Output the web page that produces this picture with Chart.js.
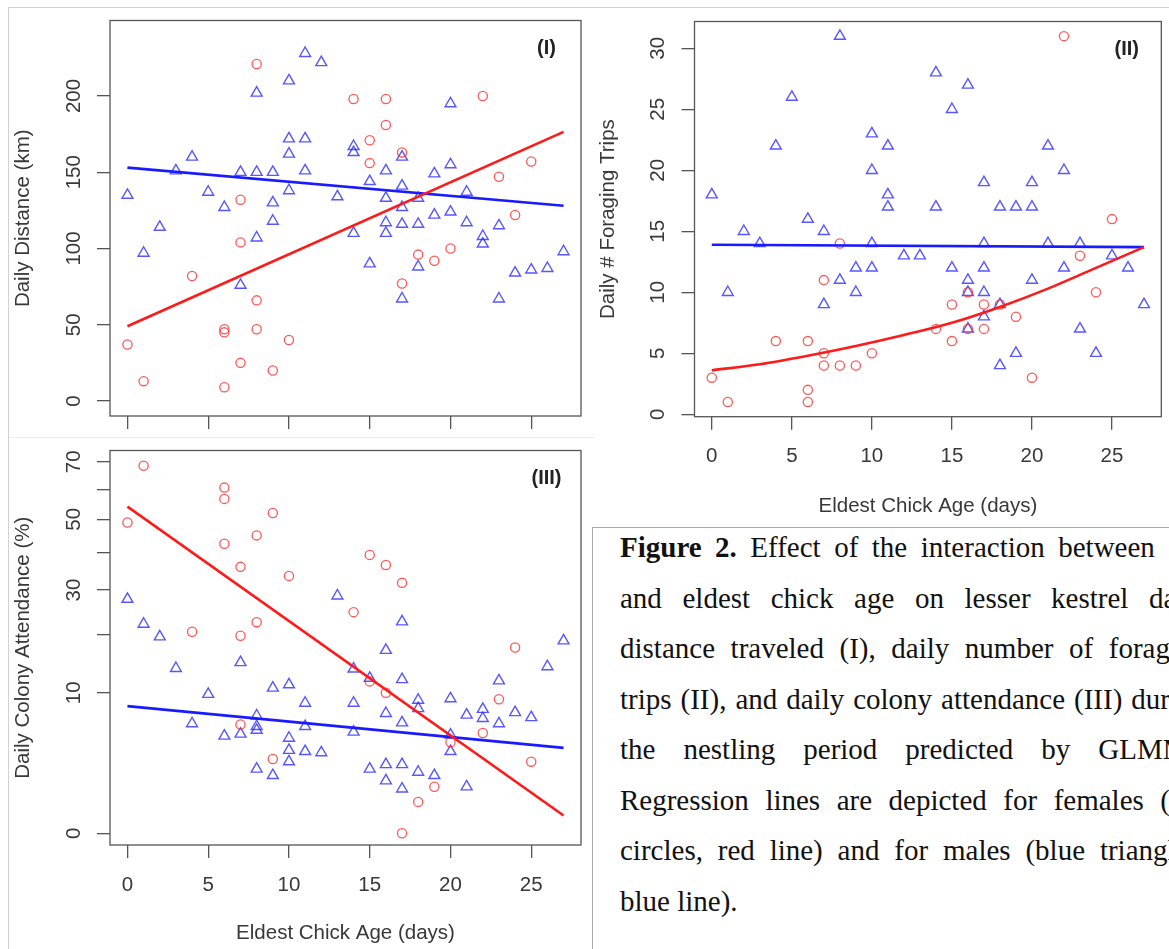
<!DOCTYPE html>
<html>
<head>
<meta charset="utf-8">
<script src="https://cdn.jsdelivr.net/npm/chart.js@4.4.1/dist/chart.umd.min.js"></script>
<style>
html, body { margin: 0; padding: 0; background: #fff; overflow: hidden; width: 1169px; height: 949px; }
#frame { position: absolute; left: 8px; top: 7px; width: 1200px; height: 1000px; border-top: 1px solid #d2d2d2; border-left: 1px solid #d2d2d2; }
#sep { position: absolute; left: 9px; top: 437px; width: 586px; height: 1px; background: #ececec; }
canvas { position: absolute; }
#c1 { left: 10px; top: 10px; }
#c2 { left: 595px; top: 10px; }
#c3 { left: 10px; top: 440px; }
#caption { position: absolute; left: 592px; top: 527px; width: 600px; height: 440px; border-top: 1px solid #a8a8a8; border-left: 1px solid #a8a8a8; overflow: hidden; font-family: "Liberation Serif", "Times New Roman", serif; font-size: 29px; color: #111; }
#caption .txt { position: absolute; left: 27px; top: -6px; width: 587px; line-height: 50.5px; }
.ln { text-align: justify; text-align-last: justify; }
.ln.last { text-align-last: left; }
</style>
</head>
<body>
<div id="frame"></div>
<div id="sep"></div>
<canvas id="c1" width="580" height="427"></canvas>
<canvas id="c2" width="574" height="515"></canvas>
<canvas id="c3" width="580" height="509"></canvas>
<div id="caption"><div class="txt">
<div class="ln"><b>Figure 2.</b> Effect of the interaction between sex</div>
<div class="ln">and eldest chick age on lesser kestrel daily</div>
<div class="ln">distance traveled (I), daily number of foraging</div>
<div class="ln">trips (II), and daily colony attendance (III) during</div>
<div class="ln">the nestling period predicted by GLMMs.</div>
<div class="ln">Regression lines are depicted for females (red</div>
<div class="ln">circles, red line) and for males (blue triangles,</div>
<div class="ln last">blue line).</div>
</div></div>
<script>
const ageTicks = [0, 5, 10, 15, 20, 25];

// (I) daily distance (km)
const distFemaleAge = [0, 1, 4, 6, 6, 6, 7, 7, 7, 8, 8, 8, 9, 10, 14, 15, 15, 16, 16, 17, 17, 18, 19, 20, 22, 23, 24, 25];
const distFemale = [37, 13, 82, 9, 45, 47, 132, 104, 25, 221, 66, 47, 20, 40, 198, 171, 156, 198, 181, 163, 77, 96, 92, 100, 200, 147, 122, 157];
const distMaleAge = [0, 1, 2, 3, 4, 5, 6, 7, 7, 8, 8, 8, 9, 9, 9, 10, 10, 10, 10, 11, 11, 11, 12, 13,
  14, 14, 14, 15, 15, 16, 16, 16, 16, 17, 17, 17, 17, 17, 18, 18, 18, 19, 19, 20, 20, 20, 21, 21, 22, 22, 23, 23, 24, 25, 26, 27];
const distMale = [135, 97, 114, 151, 160, 137, 127, 150, 76, 202, 150, 107, 150, 130, 118, 210, 172, 162, 138, 228, 172, 151, 222, 134,
  167, 163, 110, 144, 90, 151, 133, 117, 110, 160, 141, 127, 116, 67, 133, 116, 88, 149, 122, 195, 155, 124, 137, 117, 108, 103, 115, 67, 84, 86, 87, 98];
const distFitAge = [0, 27];
const distFemaleFit = [49, 176.5];
const distMaleFit = [153, 128];
const distTicks = [0, 50, 100, 150, 200];

// (II) daily number of foraging trips
const tripsFemaleAge = [0, 1, 4, 6, 6, 6, 7, 7, 7, 8, 8, 9, 10, 14, 15, 15, 16, 16, 17, 17, 18, 19, 20, 22, 23, 24, 25];
const tripsFemale = [3, 1, 6, 6, 2, 1, 11, 5, 4, 14, 4, 4, 5, 7, 9, 6, 10, 7, 9, 7, 9, 8, 3, 31, 13, 10, 16];
const tripsMaleAge = [0, 1, 2, 3, 4, 5, 6, 7, 7, 8, 8, 9, 9, 10, 10, 10, 10, 11, 11, 11, 12, 13, 14, 14, 15, 15,
  16, 16, 16, 16, 17, 17, 17, 17, 17, 18, 18, 18, 19, 19, 20, 20, 20, 21, 21, 22, 22, 23, 23, 24, 25, 26, 27];
const tripsMale = [18, 10, 15, 14, 22, 26, 16, 15, 9, 31, 11, 12, 10, 23, 20, 14, 12, 22, 18, 17, 13, 13, 28, 17, 25, 12,
  27, 11, 10, 7, 19, 14, 12, 10, 8, 17, 9, 4, 17, 5, 19, 17, 11, 22, 14, 20, 12, 14, 7, 5, 13, 12, 9];
const tripsFemaleFitAge = [0, 3, 6, 9, 12, 15, 18, 21, 24, 27];
const tripsFemaleFit = [3.6, 4.1, 4.8, 5.6, 6.5, 7.5, 8.8, 10.3, 12.0, 13.7];
const tripsMaleFitAge = [0, 27];
const tripsMaleFit = [13.9, 13.7];
const tripsTicks = [0, 5, 10, 15, 20, 25, 30];

// (III) daily colony attendance (%), square-root axis
const attFemaleAge = [0, 1, 4, 6, 6, 6, 7, 7, 7, 8, 8, 9, 9, 10, 14, 15, 15, 16, 16, 17, 17, 18, 19, 20, 22, 23, 24, 25];
const attFemale = [49, 68.5, 20.6, 60.6, 56.7, 42.5, 36, 19.8, 6, 45, 22.6, 52, 2.8, 33.6, 24.8, 39.3, 11.7, 36.5, 10, 31.8, 0, 0.5, 1.1, 4.2, 5.1, 9.1, 17.5, 2.6];
const attMaleAge = [0, 1, 2, 3, 4, 5, 6, 7, 7, 8, 8, 8, 8, 9, 9, 10, 10, 10, 10, 11, 11, 11, 12, 13, 14, 14, 14, 15, 15,
  16, 16, 16, 16, 17, 17, 17, 17, 17, 18, 18, 18, 19, 20, 20, 20, 21, 21, 22, 22, 23, 23, 24, 25, 26, 27];
const attMale = [27.8, 22.2, 19.6, 13.8, 6.1, 9.8, 4.8, 14.8, 5.0, 7.0, 5.8, 5.4, 2.1, 10.7, 1.7, 11.2, 4.6, 3.5, 2.6, 8.6, 5.8, 3.4, 3.3, 28.6, 13.7, 8.6, 5.2, 12.2, 2.1,
  17, 7.3, 2.4, 1.4, 22.7, 12, 6.2, 2.4, 1.0, 9, 7.9, 1.9, 1.7, 9.2, 4.9, 3.4, 7.1, 1.1, 7.8, 6.7, 11.8, 6.1, 7.4, 6.8, 14.1, 18.8];
const attFitAge = [0, 27];
const attFemaleFit = [54.1, 0.16];
const attMaleFit = [8.2, 3.7];
const attTicks = [0, 10, 20, 30, 40, 50, 60, 70];
const attLabelled = [0, 10, 30, 50, 70];

const FONT = "'Liberation Sans', Arial, Helvetica, sans-serif";
const FSIZE = 20.5;
const TEXT = '#383838';
const AXIS = '#555555';
const RED = 'rgba(255, 40, 40, 0.78)';
const BLUE = 'rgba(40, 40, 255, 0.78)';
Chart.defaults.font.family = FONT;
Chart.defaults.font.size = FSIZE;
const HALF_LINE = FSIZE * 1.2 / 2;

const pts = (xs, ys, f) => xs.map((x, i) => ({ x: x, y: f ? f(ys[i]) : ys[i] }));

const measure = document.createElement('canvas').getContext('2d');
measure.font = FSIZE + 'px ' + FONT;
function halfWidest(labels) {
  return Math.max(...labels.map(l => measure.measureText(l).width)) / 2;
}

// R-like box and panel tag
const panelBox = {
  id: 'panelBox',
  afterDraw(chart, args, opts) {
    const { ctx, chartArea: a } = chart;
    ctx.save();
    ctx.strokeStyle = AXIS;
    ctx.lineWidth = 1.3;
    ctx.strokeRect(a.left, a.top, a.right - a.left, a.bottom - a.top);
    ctx.fillStyle = '#222';
    ctx.font = 'bold 20px ' + FONT;
    ctx.textAlign = 'center';
    ctx.textBaseline = 'middle';
    ctx.fillText(opts.tag, a.right - 34.5, a.top + 27.5);
    ctx.restore();
  }
};

function makePanel(id, p) {
  const yLabels = p.yTicks.map(p.yFmt).filter(s => s !== '');
  const yPad = 36 - 13 - halfWidest(yLabels);
  const grid = { display: true, drawOnChartArea: false, drawTicks: true, tickLength: 13, color: AXIS, lineWidth: 1.3 };
  new Chart(document.getElementById(id), {
    type: 'scatter',
    data: {
      datasets: [
        { type: 'line', data: p.femaleFit, borderColor: '#ff1a1a', borderWidth: 2.6, pointRadius: 0, fill: false, tension: 0.4, cubicInterpolationMode: 'monotone' },
        { type: 'line', data: p.maleFit, borderColor: '#1a1aff', borderWidth: 2.6, pointRadius: 0, fill: false },
        { data: p.female, pointStyle: 'circle', pointRadius: 4.6, borderColor: RED, backgroundColor: 'rgba(0,0,0,0)', borderWidth: 1.3, clip: false },
        { data: p.male, pointStyle: 'triangle', pointRadius: 6.3, borderColor: BLUE, backgroundColor: 'rgba(0,0,0,0)', borderWidth: 1.4, clip: false }
      ]
    },
    options: {
      responsive: false,
      animation: false,
      events: [],
      layout: { padding: { left: 0, top: p.top, right: p.right, bottom: 0 } },
      plugins: { legend: { display: false }, tooltip: { enabled: false }, panelBox: { tag: p.tag } },
      scales: {
        x: {
          type: 'linear', min: -1.08, max: 28.08,
          afterBuildTicks: s => { s.ticks = ageTicks.map(v => ({ value: v })); },
          afterFit: s => { s.height = p.xHeight; s.paddingLeft = 0; s.paddingRight = 0; },
          grid: grid,
          border: { display: false },
          ticks: { display: p.xLabels, color: TEXT, padding: 40 - 13 - HALF_LINE, autoSkip: false, maxRotation: 0, callback: v => String(v) },
          title: { display: p.xLabels, text: 'Eldest Chick Age (days)', color: TEXT, padding: { top: 0, bottom: p.xTitlePad } }
        },
        y: {
          type: 'linear', min: p.yMin, max: p.yMax,
          afterBuildTicks: s => { s.ticks = p.yTicks.map(v => ({ value: v })); },
          afterFit: s => { s.width = p.yWidth; s.paddingTop = 0; s.paddingBottom = 0; },
          grid: grid,
          border: { display: false },
          ticks: { color: TEXT, minRotation: 90, maxRotation: 90, crossAlign: 'center', padding: yPad, autoSkip: false, callback: p.yFmt },
          title: { display: true, text: p.yTitle, color: TEXT, padding: { top: 1.5, bottom: 0 } }
        }
      }
    },
    plugins: [panelBox]
  });
}

makePanel('c1', {
  tag: '(I)', top: 10.5, right: 9, yWidth: 100, xHeight: 21, xLabels: false, xTitlePad: 0,
  yMin: -9.84, yMax: 249.5, yTicks: distTicks, yFmt: v => String(v),
  yTitle: 'Daily Distance (km)',
  female: pts(distFemaleAge, distFemale), male: pts(distMaleAge, distMale),
  femaleFit: pts(distFitAge, distFemaleFit), maleFit: pts(distFitAge, distMaleFit)
});

makePanel('c2', {
  tag: '(II)', top: 11.5, right: 4, yWidth: 99.5, xHeight: 108.3, xLabels: true, xTitlePad: 6.7,
  yMin: -0.2, yMax: 32.2, yTicks: tripsTicks, yFmt: v => String(v),
  yTitle: 'Daily # Foraging Trips',
  female: pts(tripsFemaleAge, tripsFemale), male: pts(tripsMaleAge, tripsMale),
  femaleFit: pts(tripsFemaleFitAge, tripsFemaleFit), maleFit: pts(tripsMaleFitAge, tripsMaleFit)
});

makePanel('c3', {
  tag: '(III)', top: 10.5, right: 9, yWidth: 100, xHeight: 104, xLabels: true, xTitlePad: 3.7,
  yMin: -0.264, yMax: 8.62, yTicks: attTicks.map(Math.sqrt),
  yFmt: v => { const raw = Math.round(v * v); return attLabelled.includes(raw) ? String(raw) : ''; },
  yTitle: 'Daily Colony Attendance (%)',
  female: pts(attFemaleAge, attFemale, Math.sqrt), male: pts(attMaleAge, attMale, Math.sqrt),
  femaleFit: pts(attFitAge, attFemaleFit, Math.sqrt), maleFit: pts(attFitAge, attMaleFit, Math.sqrt)
});
</script>
</body>
</html>
